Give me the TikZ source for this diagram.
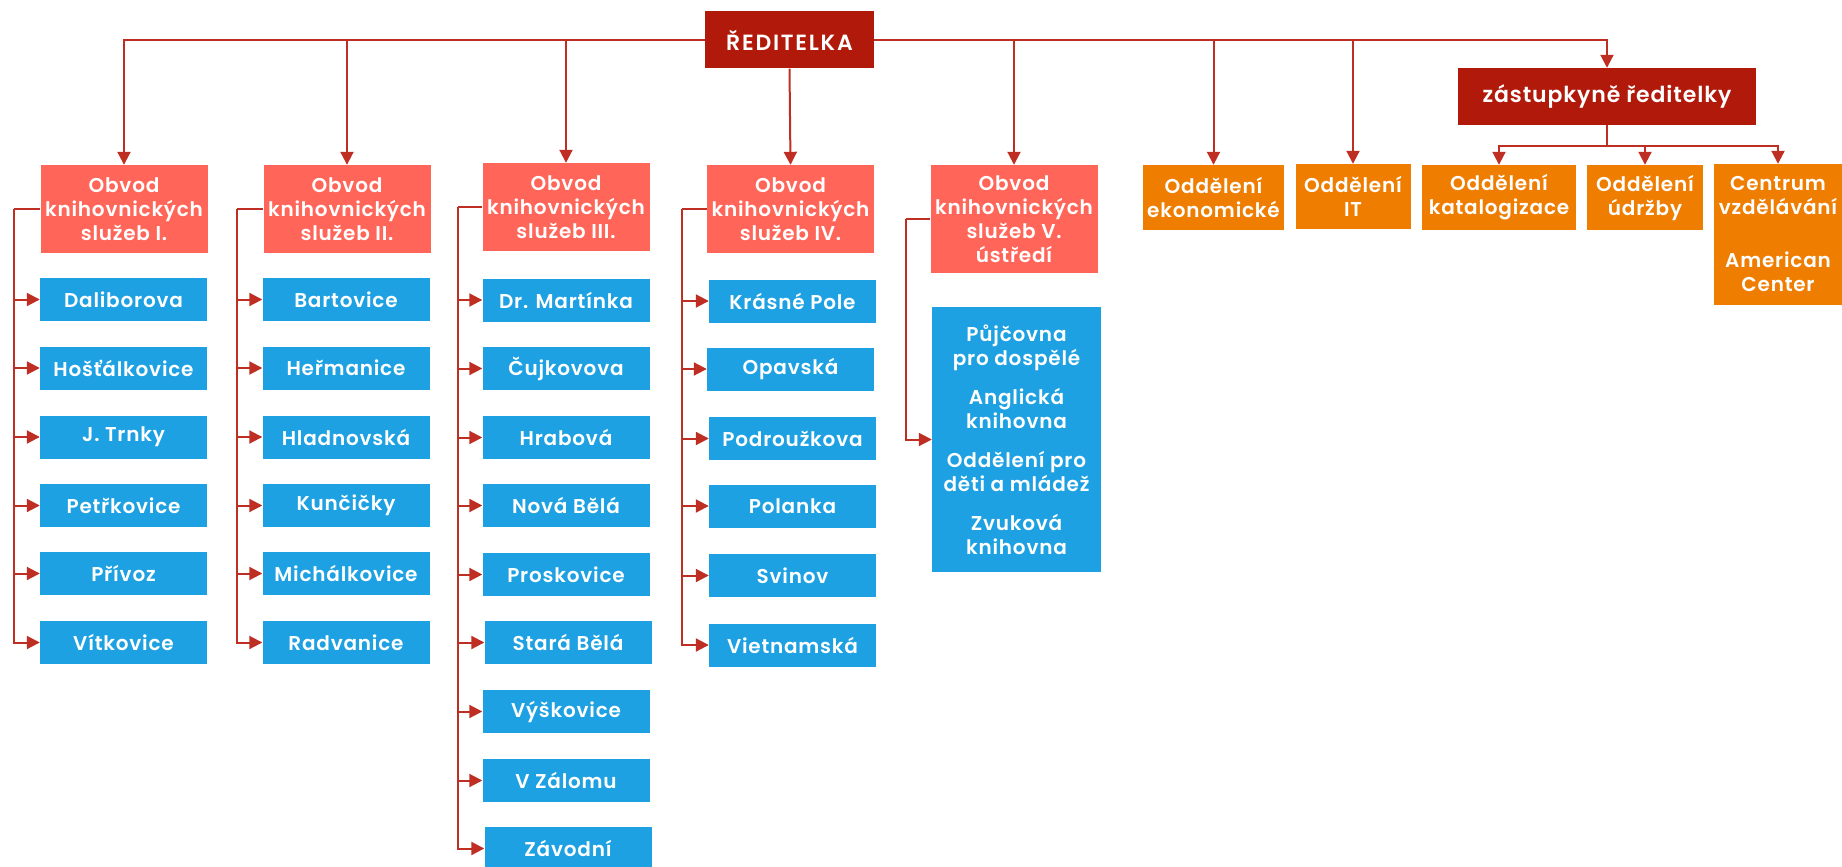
\documentclass[tikz,border=0pt]{standalone}
\usepackage{fontspec}
\setmainfont{Poppins}[BoldFont={* SemiBold}, LetterSpace=4]
\usetikzlibrary{arrows.meta}
\definecolor{dred}{HTML}{B11A0B}
\definecolor{salmon}{HTML}{FF6659}
\definecolor{sky}{HTML}{1DA1E2}
\definecolor{orng}{HTML}{EF7D00}
\definecolor{lnc}{HTML}{BE2E22}
\begin{document}
\begin{tikzpicture}[x=1pt,y=-1pt,
  box/.style={inner sep=0pt, align=center, text=white, font=\fontsize{20}{24}\selectfont\bfseries},
  topbox/.style={box, fill=dred, minimum height=57pt},
  obvod/.style={box, fill=salmon, minimum width=167pt, minimum height=88pt},
  branch/.style={box, fill=sky, minimum width=167pt, minimum height=43pt},
  dept/.style={box, fill=orng, minimum height=65pt},
  wire/.style={draw=lnc, line width=2pt},
  conn/.style={wire, -{Triangle[length=13pt,width=13pt]}}
]
\useasboundingbox (0,0) rectangle (1842,867);

% top level
\node[topbox, minimum width=169pt, font=\fontsize{22}{24}\selectfont\bfseries\addfontfeatures{LetterSpace=8}] (dir) at (789.5,40) {ŘEDITELKA};
\node[topbox, minimum width=298pt, font=\fontsize{22}{24}\selectfont\bfseries] (zast) at (1607,96.5) {zástupkyně ředitelky};

% obvody
\node[obvod] (o1) at (124,209) {Obvod\\knihovnických\\služeb I.};
\node[obvod] (o2) at (347,209) {Obvod\\knihovnických\\služeb II.};
\node[obvod] (o3) at (566,207) {Obvod\\knihovnických\\služeb III.};
\node[obvod] (o4) at (790.5,209) {Obvod\\knihovnických\\služeb IV.};
\node[obvod, minimum height=108pt] (o5) at (1014,219) {Obvod\\knihovnických\\služeb V.\\ústředí};

% departments
\node[dept, minimum width=141pt] (eko) at (1213.5,197.5) {Oddělení\\ekonomické};
\node[dept, minimum width=115pt] (it) at (1353,196.5) {Oddělení\\IT};
\node[dept, minimum width=154pt] (kat) at (1499,197.5) {Oddělení\\katalogizace};
\node[dept, minimum width=116pt] (udr) at (1645,197.5) {Oddělení\\údržby};
\node[dept, minimum width=128pt, minimum height=141pt] (cen) at (1778,234.5) {Centrum\\vzdělávání\\[29pt]American\\Center};

% column 1
\node[branch] (a1) at (123.5,299.5) {Daliborova};
\node[branch] (a2) at (123.5,368) {Hošťálkovice};
\node[branch] (a3) at (123.5,437) {J. Trnky};
\node[branch] (a4) at (123.5,505.5) {Petřkovice};
\node[branch] (a5) at (123.5,573.5) {Přívoz};
\node[branch] (a6) at (123.5,642.5) {Vítkovice};

% column 2
\node[branch] (b1) at (346,299.5) {Bartovice};
\node[branch] (b2) at (346,368) {Heřmanice};
\node[branch] (b3) at (346,437) {Hladnovská};
\node[branch] (b4) at (346,505.5) {Kunčičky};
\node[branch] (b5) at (346,573.5) {Michálkovice};
\node[branch] (b6) at (346,642.5) {Radvanice};

% column 3
\node[branch] (c1) at (566,300) {Dr. Martínka};
\node[branch] (c2) at (566,368.5) {Čujkovova};
\node[branch] (c3) at (566,437.5) {Hrabová};
\node[branch] (c4) at (566,505.5) {Nová Bělá};
\node[branch] (c5) at (566,574.5) {Proskovice};
\node[branch] (c6) at (568,642.5) {Stará Bělá};
\node[branch] (c7) at (566,711.5) {Výškovice};
\node[branch] (c8) at (566,780.5) {V Zálomu};
\node[branch] (c9) at (568,848.5) {Závodní};

% column 4
\node[branch] (d1) at (792.5,301) {Krásné Pole};
\node[branch] (d2) at (790.5,369) {Opavská};
\node[branch] (d3) at (792.5,438.5) {Podroužkova};
\node[branch] (d4) at (792.5,506) {Polanka};
\node[branch] (d5) at (792.5,575.5) {Svinov};
\node[branch] (d6) at (792.5,645) {Vietnamská};

% column 5
\node[branch, minimum width=169pt, minimum height=265pt] (e1) at (1016.5,439.5)
  {Půjčovna\\pro dospělé\\[15pt]Anglická\\knihovna\\[15pt]Oddělení pro\\děti a mládež\\[15pt]Zvuková\\knihovna};

% top connectors
\draw[conn] (dir.west) -| (o1.north);
\draw[conn] (dir.west) -| (o2.north);
\draw[conn] (dir.west) -| (o3.north);
\draw[conn] (dir.south) -- (o4.north);
\draw[conn] (dir.east) -| (o5.north);
\draw[conn] (dir.east) -| (eko.north);
\draw[conn] (dir.east) -| (it.north);
\draw[conn] (dir.east) -| (zast.north);

% deputy connectors
\coordinate (zj) at (1607,146);
\draw[wire] (zast.south) -- (zj);
\draw[conn] (zj) -| (kat.north);
\draw[conn] (zj) -| (udr.north);
\draw[conn] (zj) -| (cen.north);

% brackets
\coordinate (k1) at (14,209);
\coordinate (k2) at (237,209);
\coordinate (k3) at (458,207);
\coordinate (k4) at (682,209);
\coordinate (k5) at (906,219);
\draw[wire] (o1.west) -- (k1);
\draw[wire] (o2.west) -- (k2);
\draw[wire] (o3.west) -- (k3);
\draw[wire] (o4.west) -- (k4);
\draw[wire] (o5.west) -- (k5);
\foreach \n in {a1,a2,a3,a4,a5,a6} \draw[conn] (k1) |- (\n.west);
\foreach \n in {b1,b2,b3,b4,b5,b6} \draw[conn] (k2) |- (\n.west);
\foreach \n in {c1,c2,c3,c4,c5,c6,c7,c8,c9} \draw[conn] (k3) |- (\n.west);
\foreach \n in {d1,d2,d3,d4,d5,d6} \draw[conn] (k4) |- (\n.west);
\draw[conn] (k5) |- (e1.west);
\end{tikzpicture}
\end{document}
